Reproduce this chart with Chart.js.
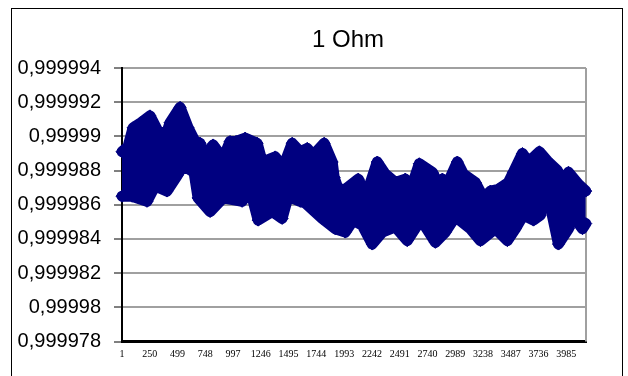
<!DOCTYPE html>
<html>
<head>
<meta charset="utf-8">
<script src="https://cdn.jsdelivr.net/npm/chart.js@4"></script>
<style>
  html, body { margin: 0; padding: 0; background: #ffffff; }
  #c { display: block; }
</style>
</head>
<body>
<canvas id="c" width="628" height="376"></canvas>
<script>
// ---- data (sample index, value) ----
const titleText = "1 Ohm";
const xTickValues = [1, 250, 499, 748, 997, 1246, 1495, 1744, 1993, 2242, 2491, 2740, 2989, 3238, 3487, 3736, 3985];
const yTickValues = [0.999978, 0.99998, 0.999982, 0.999984, 0.999986, 0.999988, 0.99999, 0.999992, 0.999994];
const yTickLabels = ["0,999978", "0,99998", "0,999982", "0,999984", "0,999986", "0,999988", "0,99999", "0,999992", "0,999994"];

// upper envelope of the measured series
const upperIndex = [1, 55, 100, 172, 252, 324, 396, 432, 522, 594, 656, 701, 728, 818, 908, 970, 1024, 1105, 1213, 1258, 1375, 1446, 1527, 1599, 1662, 1716, 1814, 1886, 1904, 1940, 2003, 2120, 2182, 2209, 2290, 2362, 2452, 2541, 2586, 2667, 2784, 2829, 2874, 2918, 3008, 3062, 3170, 3242, 3305, 3376, 3466, 3511, 3592, 3646, 3744, 3825, 3906, 3933, 3960, 4005, 4095, 4160];
const upperValue = [0.9999891, 0.9999894, 0.9999905, 0.9999908, 0.9999912, 0.9999903, 0.9999901, 0.9999908, 0.9999917, 0.9999905, 0.9999897, 0.9999896, 0.9999888, 0.9999895, 0.9999887, 0.9999897, 0.9999897, 0.9999899, 0.9999896, 0.9999885, 0.9999888, 0.9999882, 0.9999896, 0.9999891, 0.9999893, 0.9999889, 0.9999896, 0.9999885, 0.9999876, 0.9999869, 0.9999869, 0.9999875, 0.9999866, 0.9999869, 0.9999885, 0.9999878, 0.9999873, 0.9999875, 0.9999868, 0.9999884, 0.9999879, 0.9999873, 0.9999875, 0.9999872, 0.9999885, 0.9999878, 0.9999873, 0.9999864, 0.9999868, 0.9999869, 0.9999873, 0.9999879, 0.9999890, 0.9999885, 0.9999891, 0.9999885, 0.9999880, 0.9999868, 0.9999875, 0.9999879, 0.9999872, 0.9999868];

// lower envelope of the measured series
const lowerIndex = [1, 91, 225, 297, 405, 495, 549, 647, 683, 791, 908, 1078, 1150, 1222, 1348, 1437, 1491, 1599, 1644, 1796, 1913, 2003, 2075, 2155, 2245, 2335, 2452, 2559, 2649, 2694, 2811, 2901, 2990, 3125, 3215, 3349, 3457, 3529, 3601, 3691, 3753, 3780, 3843, 3915, 4005, 4041, 4130, 4160];
const lowerValue = [0.9999865, 0.9999865, 0.9999862, 0.9999871, 0.9999868, 0.9999877, 0.9999883, 0.9999879, 0.9999864, 0.9999856, 0.9999864, 0.9999862, 0.9999869, 0.9999851, 0.9999856, 0.9999852, 0.9999865, 0.9999862, 0.9999861, 0.9999852, 0.9999846, 0.9999844, 0.9999851, 0.9999848, 0.9999837, 0.9999844, 0.9999847, 0.9999839, 0.9999848, 0.9999850, 0.9999838, 0.9999844, 0.9999853, 0.9999846, 0.9999839, 0.9999846, 0.9999839, 0.9999846, 0.9999854, 0.9999851, 0.9999854, 0.9999864, 0.9999859, 0.9999837, 0.9999846, 0.9999854, 0.9999846, 0.9999849];

const xMin = 1;
const xMax = 4162;
// ---------------------------------------------------------------

const NAVY = '#000080';

const upperData = upperIndex.map((x, i) => ({ x: x, y: upperValue[i] }));
const lowerData = lowerIndex.map((x, i) => ({ x: x, y: lowerValue[i] }));

const seriesStyle = {
  borderColor: NAVY,
  backgroundColor: NAVY,
  borderWidth: 11,
  borderJoinStyle: 'round',
  borderCapStyle: 'round',
  pointStyle: 'rectRot',
  pointRadius: 6,
  pointBorderWidth: 1,
  pointBackgroundColor: NAVY,
  pointBorderColor: NAVY,
  tension: 0,
  clip: false
};

const frame = {
  id: 'frame',
  beforeDraw(chart) {
    const ctx = chart.ctx;
    ctx.save();
    ctx.fillStyle = '#ffffff';
    ctx.fillRect(0, 0, chart.width, chart.height);
    ctx.strokeStyle = '#000000';
    ctx.lineWidth = 1;
    ctx.strokeRect(11.5, 8.5, 611, 400);
    ctx.restore();
  },
  afterLayout(chart) {
    // centre the title where the reference has it
    const t = chart.titleBlock;
    if (t) { t.left = 11; t.right = 685; }
  },
  beforeDatasetsDraw(chart) {
    const ctx = chart.ctx;
    const a = chart.chartArea;
    ctx.save();
    ctx.strokeStyle = '#a0a0a0';
    ctx.lineWidth = 2;
    ctx.beginPath();
    ctx.moveTo(a.right, a.top);
    ctx.lineTo(a.right, a.bottom);
    ctx.stroke();
    ctx.restore();
  }
};

new Chart(document.getElementById('c'), {
  type: 'line',
  data: {
    datasets: [
      Object.assign({ label: 'upper', data: upperData, fill: false }, seriesStyle),
      Object.assign({ label: 'lower', data: lowerData, fill: '-1' }, seriesStyle)
    ]
  },
  options: {
    responsive: false,
    animation: false,
    devicePixelRatio: 1,
    layout: { padding: { left: 0, right: 42, top: 10, bottom: 0 } },
    plugins: {
      legend: { display: false },
      tooltip: { enabled: false },
      title: {
        display: true,
        text: titleText,
        color: '#000000',
        font: { family: 'Liberation Sans', size: 24, weight: 'normal' },
        padding: { top: 15.6, bottom: 13.6 }
      }
    },
    scales: {
      x: {
        type: 'linear',
        min: xMin,
        max: xMax,
        afterBuildTicks: s => { s.ticks = xTickValues.map(v => ({ value: v })); },
        afterFit: s => { s.height = 34.5; },
        ticks: {
          autoSkip: false,
          maxRotation: 0,
          minRotation: 0,
          padding: 7,
          color: '#000000',
          font: { family: 'Liberation Serif', size: 10 },
          callback: v => String(v)
        },
        grid: { display: false, drawTicks: false },
        border: { display: true, color: '#000000', width: 3 }
      },
      y: {
        min: yTickValues[0],
        max: yTickValues[yTickValues.length - 1],
        afterBuildTicks: s => { s.ticks = yTickValues.map(v => ({ value: v })); },
        afterFit: s => { s.width = 122; },
        ticks: {
          autoSkip: false,
          padding: 13,
          color: '#000000',
          font: { family: 'Liberation Sans', size: 20 },
          callback: (v, i) => yTickLabels[i]
        },
        grid: { color: '#a0a0a0', lineWidth: 2, tickColor: '#000000', tickLength: 8, tickWidth: 1, drawTicks: true },
        border: { display: true, color: '#000000', width: 2 }
      }
    }
  },
  plugins: [frame]
});
</script>
</body>
</html>
